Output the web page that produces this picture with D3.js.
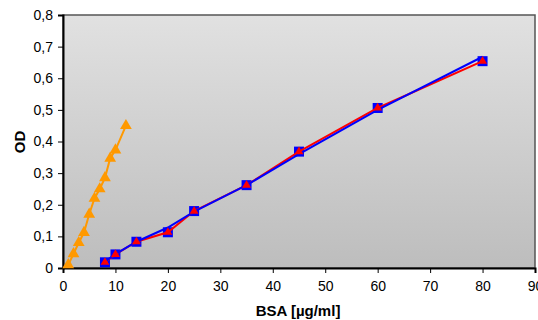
<!DOCTYPE html>
<html>
<head>
<meta charset="utf-8">
<script src="https://cdn.jsdelivr.net/npm/d3@7"></script>
<style>
  body { margin: 0; background: #fff; }
  text { font-family: "Liberation Sans", Arial, sans-serif; }
</style>
</head>
<body>
<div id="chart"></div>
<script>
// data
const bsaX = [8, 10, 14, 20, 25, 35, 45, 60, 80];
const measured = [0.018, 0.043, 0.083, 0.113, 0.18, 0.262, 0.368, 0.506, 0.654];
const fitLine = [0.02, 0.044, 0.083, 0.128, 0.178, 0.262, 0.36, 0.50, 0.668];

const orangeX = [1, 2, 3, 4, 5, 6, 7, 8, 9, 10, 12];
const orangeY = [0.01, 0.045, 0.08, 0.112, 0.17, 0.22, 0.25, 0.285, 0.347, 0.373, 0.45];

const xTicks = [0, 10, 20, 30, 40, 50, 60, 70, 80, 90];
const yTicks = [0, 0.1, 0.2, 0.3, 0.4, 0.5, 0.6, 0.7, 0.8];

const width = 538, height = 320;
const m = { left: 63, right: 3, top: 15, bottom: 52 };

const svg = d3.select('#chart').append('svg')
  .attr('width', width)
  .attr('height', height);

const x = d3.scaleLinear().domain([0, 90]).range([m.left, width - m.right]);
const y = d3.scaleLinear().domain([0, 0.8]).range([height - m.bottom, m.top]);

// plot background gradient
const grad = svg.append('defs').append('linearGradient')
  .attr('id', 'bg').attr('x1', 0).attr('y1', 0).attr('x2', 0).attr('y2', 1);
grad.append('stop').attr('offset', '0%').attr('stop-color', '#e1e1e1');
grad.append('stop').attr('offset', '100%').attr('stop-color', '#bdbdbd');

svg.append('rect')
  .attr('x', x(0)).attr('y', y(0.8))
  .attr('width', x(90) - x(0)).attr('height', y(0) - y(0.8))
  .attr('fill', 'url(#bg)')
  .attr('stroke', '#555')
  .attr('stroke-width', 1.5);

// axes
const fmt = d => d === 0 ? '0' : d3.format('.1f')(d).replace('.', ',');

const yAxis = svg.append('g')
  .attr('transform', `translate(${x(0)},0)`)
  .call(d3.axisLeft(y).tickValues(yTicks).tickFormat(fmt).tickSize(5).tickPadding(5));
const xAxis = svg.append('g')
  .attr('transform', `translate(0,${y(0)})`)
  .call(d3.axisBottom(x).tickValues(xTicks).tickFormat(d3.format('d')).tickSize(5).tickPadding(8));

[yAxis, xAxis].forEach(a => {
  a.select('.domain').attr('stroke', '#000').attr('stroke-width', 2);
  a.selectAll('.tick line').attr('stroke', '#000');
  a.selectAll('.tick text')
    .attr('fill', '#000')
    .style('font-size', '14px')
    .style('font-family', '"Liberation Sans", Arial, sans-serif');
});

// axis titles
svg.append('text')
  .attr('x', 298).attr('y', 316)
  .attr('text-anchor', 'middle')
  .style('font-size', '15px').style('font-weight', 'bold')
  .text('BSA [µg/ml]');

svg.append('text')
  .attr('transform', `translate(25,142) rotate(-90)`)
  .attr('text-anchor', 'middle')
  .style('font-size', '15px').style('font-weight', 'bold')
  .text('OD');

const line = d3.line().x(d => x(d[0])).y(d => y(d[1]));
const tri = d3.symbol().type(d3.symbolTriangle);

// orange series
const orange = orangeX.map((v, i) => [v, orangeY[i]]);
svg.append('path').datum(orange)
  .attr('d', line).attr('fill', 'none')
  .attr('stroke', '#ff9900').attr('stroke-width', 2);
svg.selectAll('path.otri').data(orange).enter().append('path')
  .attr('class', 'otri')
  .attr('transform', d => `translate(${x(d[0])},${y(d[1])})`)
  .attr('d', tri.size(60)())
  .attr('fill', '#ff9900');

// measured points: blue squares
const meas = bsaX.map((v, i) => [v, measured[i]]);
svg.selectAll('rect.sq').data(meas).enter().append('rect')
  .attr('class', 'sq')
  .attr('x', d => x(d[0]) - 5).attr('y', d => y(d[1]) - 5)
  .attr('width', 10).attr('height', 10)
  .attr('fill', '#0000ff');

// red line through measured points
svg.append('path').datum(meas)
  .attr('d', line).attr('fill', 'none')
  .attr('stroke', '#ff0000').attr('stroke-width', 2);

// blue fit line
const fit = bsaX.map((v, i) => [v, fitLine[i]]);
svg.append('path').datum(fit)
  .attr('d', line).attr('fill', 'none')
  .attr('stroke', '#0000ff').attr('stroke-width', 2);

// red triangles
svg.selectAll('path.rtri').data(meas).enter().append('path')
  .attr('class', 'rtri')
  .attr('transform', d => `translate(${x(d[0])},${y(d[1])})`)
  .attr('d', tri.size(34)())
  .attr('fill', '#ff0000');
</script>
</body>
</html>
